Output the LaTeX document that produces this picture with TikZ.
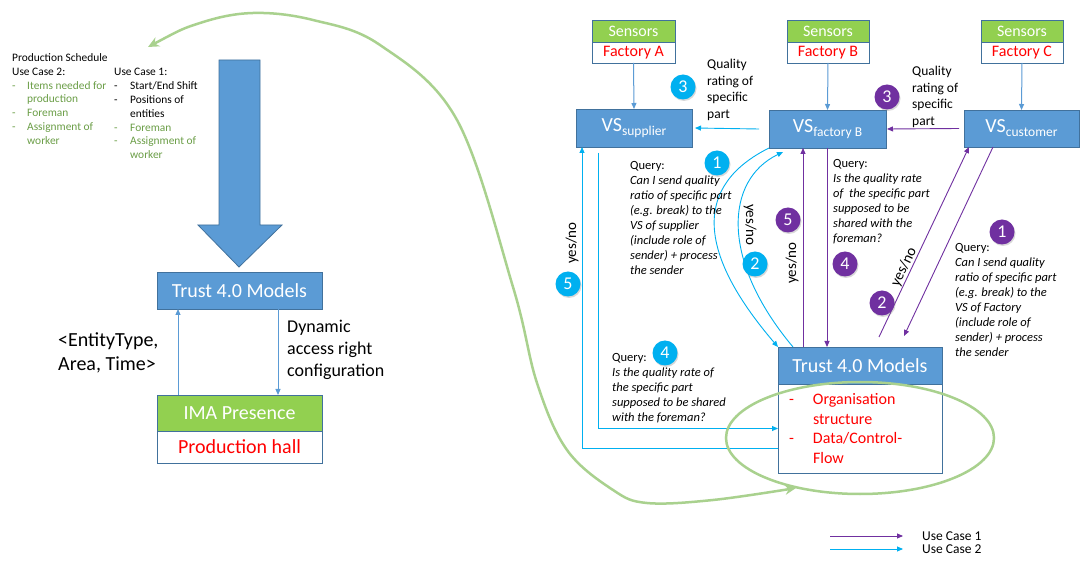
\documentclass[tikz,border=0pt]{standalone}
\usepackage{fontspec}
\setmainfont{Carlito}
\usetikzlibrary{arrows.meta,shadows}
\definecolor{boxblue}{HTML}{5B9BD5}
\definecolor{boxedge}{HTML}{41719C}
\definecolor{lgreen}{HTML}{92D050}
\definecolor{ucyan}{HTML}{00B0F0}
\definecolor{upurple}{HTML}{7030A0}
\definecolor{curvegreen}{HTML}{A9D18E}
\definecolor{olivetxt}{HTML}{6B9E47}
\newcommand{\myfs}[2]{\fontsize{#1}{#2}\selectfont}
\newcommand{\dsh}[1]{\makebox[#1][l]{-}}
\begin{document}
\begin{tikzpicture}[x=1pt,y=-1pt,
  box/.style={draw=boxedge, line width=0.8pt, anchor=north west, inner sep=0pt, outer sep=0pt},
  bluebox/.style={box, fill=boxblue, text=white},
  greenbox/.style={box, fill=lgreen, text=white},
  whitebox/.style={box, fill=white, text=red},
  txt/.style={anchor=north west, inner sep=0pt, align=left},
  qtxt/.style={txt, font=\myfs{12.5}{15}\itshape},
  numc/.style={circle, inner sep=0pt, minimum size=25pt, text=white, font=\myfs{18}{20},
    drop shadow={shadow xshift=1pt,shadow yshift=-1.5pt,opacity=0.3}},
  cnum/.style={numc, fill=ucyan},
  pnum/.style={numc, fill=upurple},
  tip/.style={-{Triangle[length=6pt,width=5pt]}},
  cyanarr/.style={draw=ucyan, line width=0.9pt, tip},
  purarr/.style={draw=upurple, line width=0.9pt, tip},
  bluearr/.style={draw=boxblue, line width=1pt, tip},
  yn/.style={inner sep=0pt, font=\myfs{15}{16}},
]
\fill[white] (0,0) rectangle (1080,561);
\useasboundingbox (0,0) rectangle (1080,561);

% ---------- left part ----------
\node[txt, font=\myfs{11.4}{13.8}] (schedL) at (12,53.4) {Production Schedule\\
Use Case 2:\\
{\color{olivetxt}\dsh{15pt}Items needed for}\\
{\color{olivetxt}\hspace*{15pt}production}\\
{\color{olivetxt}\dsh{15pt}Foreman}\\
{\color{olivetxt}\dsh{15pt}Assignment of}\\
{\color{olivetxt}\hspace*{15pt}worker}};
\node[txt, font=\myfs{11.4}{13.8}] (schedR) at (114,68.4) {Use Case 1:\\
\dsh{16pt}Start/End Shift\\
\dsh{16pt}Positions of\\
\hspace*{16pt}entities\\
{\color{olivetxt}\dsh{16pt}Foreman}\\
{\color{olivetxt}\dsh{16pt}Assignment of}\\
{\color{olivetxt}\hspace*{16pt}worker}};

\filldraw[fill=boxblue, draw=boxedge, line width=0.8pt]
  (219,60) -- (260,60) -- (260,225) -- (282,225) -- (239,267) -- (198,225) -- (219,225) -- cycle;

\node[bluebox, minimum width=165pt, minimum height=37pt, font=\myfs{20}{24}] (trustL) at (157,272) {Trust 4.0 Models};
\node[greenbox, minimum width=165pt, minimum height=36pt, font=\myfs{20}{24}] (ima) at (157,395) {IMA Presence};
\node[whitebox, minimum width=165pt, minimum height=32pt, font=\myfs{20}{24}] (hall) at (157,431) {Production hall};

\draw[bluearr] ([xshift=-61.5pt]ima.north) -- ([xshift=-61.5pt]trustL.south);
\draw[bluearr] ([xshift=38.5pt]trustL.south) -- ([xshift=38.5pt]ima.north);

\node[txt, font=\myfs{20}{24}] (entity) at (58,332) {<EntityType,\\Area, Time>};
\node[txt, font=\myfs{18}{22}] (dyn) at (287,319.5) {Dynamic\\access right\\configuration};

% ---------- right part: sensors ----------
\node[greenbox, minimum width=83pt, minimum height=22pt, font=\myfs{16}{18}] (sensA) at (592,20) {Sensors};
\node[whitebox, minimum width=83pt, minimum height=21pt, font=\myfs{16}{18}] (factA) at (592,42) {Factory A};
\node[greenbox, minimum width=82pt, minimum height=22pt, font=\myfs{16}{18}] (sensB) at (787,20) {Sensors};
\node[whitebox, minimum width=82pt, minimum height=21pt, font=\myfs{16}{18}] (factB) at (787,42) {Factory B};
\node[greenbox, minimum width=82pt, minimum height=22pt, font=\myfs{16}{18}] (sensC) at (981,20) {Sensors};
\node[whitebox, minimum width=82pt, minimum height=21pt, font=\myfs{16}{18}] (factC) at (981,42) {Factory C};

% ---------- VS boxes ----------
\node[bluebox, minimum width=116pt, minimum height=38pt] (vsS) at (576,109)
  {\myfs{20}{24}VS\raisebox{-4pt}{\myfs{13.5}{16}supplier}};
\node[bluebox, minimum width=117pt, minimum height=38pt] (vsF) at (769,110)
  {\myfs{20}{24}VS\raisebox{-4pt}{\myfs{13.5}{16}factory B}};
\node[bluebox, minimum width=115pt, minimum height=37pt] (vsC) at (964,110)
  {\myfs{20}{24}VS\raisebox{-4pt}{\myfs{13.5}{16}customer}};

\draw[bluearr] (factA.south) -- (vsS.north);
\draw[bluearr] (factB.south) -- (vsF.north);
\draw[bluearr] (factC.south) -- (vsC.north);

% ---------- Trust right ----------
\node[bluebox, minimum width=164pt, minimum height=37pt, font=\myfs{20}{24}] (trustR) at (778,347) {Trust 4.0 Models};
\node[whitebox, minimum width=164pt, minimum height=89pt, text width=142pt, inner xsep=11pt, align=left,
  font=\myfs{16}{19.5}] (trustRb) at (778,384)
  {\dsh{24pt}Organisation\\\hspace*{24pt}structure\\\dsh{24pt}Data/Control-\\\hspace*{24pt}Flow};

% ---------- quality rating ----------
\draw[cyanarr] ([xshift=-10pt]vsF.west) -- ([xshift=3pt]vsS.east);
\draw[purarr] ([xshift=-5pt]vsC.west) -- ([xshift=1pt]vsF.east);
\node[txt, font=\myfs{13.5}{16.5}] (qrc) at (707,59.4) {Quality\\rating of\\specific\\part};
\node[txt, font=\myfs{13.5}{16.5}] (qrp) at (912,66.4) {Quality\\rating of\\specific\\part};
\node[cnum] (c3) at (683,87) {3};
\node[pnum] (p3) at (887,97) {3};

% ---------- use case 2 (cyan) ----------
\draw[cyanarr] ([xshift=-36pt,yshift=-6pt]vsS.south) |- (trustRb.west);
\draw[cyanarr] ([yshift=-19.5pt]trustRb.west) -| ([xshift=-52pt]vsS.south);
\draw[cyanarr] (vsF.south west) .. controls (695,185) and (695,250) .. (trustR.north west);
\draw[cyanarr] ([xshift=15pt]trustR.north west) .. controls (720,260) and (725,180) .. ([xshift=14pt,yshift=-4pt]vsF.south west);

\node[qtxt] (cq1) at (630,161.5) {\textup{Query:}\\Can I send quality\\ratio of specific part\\(e.g. break) to the\\VS of supplier\\(include role of\\sender) + process\\the sender};
\node[qtxt] (cq4) at (612,353.5) {\textup{Query:}\\Is the quality rate of\\the specific part\\supposed to be shared\\with the foreman?};
\node[yn, rotate=90] (cyn5) at (572,243) {yes/no};
\node[yn, rotate=-90] (cyn2) at (750,225) {yes/no};
\node[cnum] (c1) at (717,163) {1};
\node[cnum] (c2) at (755,264) {2};
\node[cnum] (c5) at (568,284) {5};
\node[cnum] (c4) at (665,353) {4};

% ---------- use case 1 (purple) ----------
\draw[purarr] ([xshift=-57pt]trustR.north) -- ([xshift=-24.5pt]vsF.south);
\draw[purarr] ([xshift=-0.5pt]vsF.south) -- ([xshift=-33pt]trustR.north);
\draw[purarr] ([xshift=19pt,yshift=10pt]trustR.north) -- ([xshift=-52.5pt]vsC.south);
\draw[purarr] ([xshift=-28.5pt]vsC.south) -- ([xshift=44pt,yshift=11pt]trustR.north);

\node[qtxt] (pq4) at (833,159) {\textup{Query:}\\Is the quality rate\\of~ the specific part\\supposed to be\\shared with the\\foreman?};
\node[qtxt] (pq1) at (955,243) {\textup{Query:}\\Can I send quality\\ratio of specific part\\(e.g. break) to the\\VS of Factory\\(include role of\\sender) + process\\the sender};
\node[yn, rotate=90] (pyn5) at (792,263) {yes/no};
\node[yn, rotate=64] (pyn2) at (904,267) {yes/no};
\node[pnum] (p5) at (788,220) {5};
\node[pnum] (p4) at (845,264) {4};
\node[pnum] (p2) at (882,303) {2};
\node[pnum] (p1) at (1002,232) {1};

% ---------- green ellipse and curve ----------
\draw[curvegreen, line width=2.5pt] (860,438) ellipse [x radius=134, y radius=56];
\coordinate (gStart) at (148,47);
\coordinate (gEnd) at (796,488);
\draw[curvegreen, line width=2.5pt, {Stealth[length=11pt,width=10pt]}-{Stealth[length=11pt,width=10pt]}]
  plot[smooth, tension=0.6] coordinates {(gStart) (200,23) (253,13) (313,20) (380,45) (457,120) (513,287) (537,383) (567,450) (613,490) (647,503) (713,500) (gEnd)};

% ---------- legend ----------
\coordinate (l1a) at (830,536); \coordinate (l1b) at (903,536);
\coordinate (l2a) at (830,549); \coordinate (l2b) at (903,549);
\draw[purarr] (l1a) -- (l1b);
\draw[cyanarr] (l2a) -- (l2b);
\node[anchor=west, inner sep=0pt, font=\myfs{13.5}{14}] (lt1) at (922,536) {Use Case 1};
\node[anchor=west, inner sep=0pt, font=\myfs{13.5}{14}] (lt2) at (922,549) {Use Case 2};
\end{tikzpicture}
\end{document}
